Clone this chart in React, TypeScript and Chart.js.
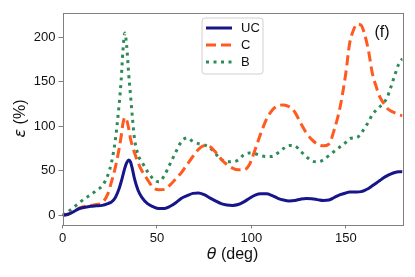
import React, { useEffect, useRef } from "react";
import { Chart, registerables } from "chart.js";

Chart.register(...registerables);

const theta = [0, 3, 6, 9, 12, 15, 18, 21, 24, 26, 28, 30, 31, 32, 33, 34, 35, 36, 37, 38, 40, 42, 45, 48, 51, 54, 57, 60, 63, 66, 69, 72, 75, 78, 81, 84, 87, 90, 93, 96, 99, 102, 105, 108, 111, 114, 117, 120, 123, 126, 129, 132, 135, 138, 141, 144, 147, 150, 152, 154, 156, 158, 160, 162, 164, 166, 168, 170, 172, 174, 176, 178, 180];

const ucValues = [0, 1, 4, 7.5, 9, 10, 10.5, 11, 13, 15, 20, 30, 37, 45, 53, 59, 62, 60, 52, 42, 28, 20, 13, 9.5, 7.5, 7.5, 10, 14, 19, 22, 24.5, 25, 23, 19.5, 16, 13, 11.5, 11, 12, 15, 19, 22.5, 24, 24, 22, 19, 17, 16, 16.5, 18, 18.8, 18.5, 17.5, 16.5, 17, 20, 23, 25, 26, 26, 26, 26.5, 28, 30, 33, 36, 39, 42, 44.5, 46.5, 48, 48.8, 49];

const cValues = [0, 1, 4, 8, 10, 11, 12, 14, 24, 38, 54, 75, 88, 103, 110, 107, 98, 86, 78, 71, 59, 50, 40, 31, 28.5, 29, 34, 41, 48, 57, 66, 74, 78, 77, 71, 63, 57, 53, 51, 51, 57, 74, 92, 108, 118, 123, 124, 122, 116, 104, 93, 85, 80, 78, 80, 97, 122, 160, 193, 208, 215, 214, 203, 185, 160, 145, 133, 126, 120, 117, 115, 113, 112];

const bValues = [0, 4, 9, 14, 19, 23, 28, 33, 45, 60, 85, 125, 150, 185, 205, 190, 160, 135, 110, 88, 68, 60, 49, 41, 37.5, 45, 58, 71, 83, 87, 83, 80.5, 79, 76, 69, 63, 60, 60, 62, 68, 70, 69, 67, 66, 66, 70, 75, 78.5, 78, 72, 66, 61, 60, 62, 67, 72, 77, 82, 86, 87, 87.5, 92, 98, 105, 113, 118, 122, 126, 133, 145, 158, 170, 176];

const seriesLabels = ["UC", "C", "B"];
const xTicks = [0, 50, 100, 150];
const yTicks = [0, 50, 100, 150, 200];
const panelLabel = "(f)";

const toPoints = (vals: number[]) => theta.map((t, i) => ({ x: t, y: vals[i] }));

const overlayPlugin = {
  id: "overlay",
  afterDraw(chart: any) {
    const { ctx, chartArea } = chart;
    const { left, top, right, bottom } = chartArea;
    ctx.save();
    // frame
    ctx.strokeStyle = "#808080";
    ctx.lineWidth = 1;
    ctx.setLineDash([]);
    ctx.strokeRect(Math.round(left) + 0.5, Math.round(top) + 0.5, Math.round(right - left), Math.round(bottom - top));

    // legend box
    const bx = 202, by = 18, bw = 61, bh = 56;
    ctx.fillStyle = "rgba(255,255,255,0.8)";
    ctx.strokeStyle = "#d0d0d0";
    ctx.beginPath();
    const r = 3;
    ctx.moveTo(bx + r, by);
    ctx.lineTo(bx + bw - r, by);
    ctx.quadraticCurveTo(bx + bw, by, bx + bw, by + r);
    ctx.lineTo(bx + bw, by + bh - r);
    ctx.quadraticCurveTo(bx + bw, by + bh, bx + bw - r, by + bh);
    ctx.lineTo(bx + r, by + bh);
    ctx.quadraticCurveTo(bx, by + bh, bx, by + bh - r);
    ctx.lineTo(bx, by + r);
    ctx.quadraticCurveTo(bx, by, bx + r, by);
    ctx.closePath();
    ctx.fill();
    ctx.stroke();

    const rows = [28, 45, 62];
    chart.data.datasets.forEach((ds: any, i: number) => {
      const y = rows[i];
      ctx.strokeStyle = ds.borderColor;
      ctx.lineWidth = ds.borderWidth;
      ctx.setLineDash(ds.borderDash || []);
      ctx.lineCap = "butt";
      ctx.beginPath();
      ctx.moveTo(206, y);
      ctx.lineTo(232, y);
      ctx.stroke();
      ctx.setLineDash([]);
      ctx.fillStyle = "#111";
      ctx.font = "13px 'Liberation Sans', Arial, sans-serif";
      ctx.textAlign = "left";
      ctx.textBaseline = "middle";
      ctx.fillText(ds.label, 241, y + 0.5);
    });

    // panel label
    ctx.fillStyle = "#111";
    ctx.font = "16px 'Liberation Sans', Arial, sans-serif";
    ctx.textAlign = "center";
    ctx.textBaseline = "middle";
    ctx.fillText(panelLabel, 382, 33);

    // x title: θ (deg)
    const xt = 255;
    ctx.textBaseline = "middle";
    ctx.textAlign = "left";
    ctx.font = "italic 16px 'DejaVu Sans', sans-serif";
    const w1 = ctx.measureText("\u03b8").width;
    ctx.font = "16px 'Liberation Sans', Arial, sans-serif";
    const w2 = ctx.measureText(" (deg)").width;
    const cx = (left + right) / 2;
    let sx = cx - (w1 + w2) / 2;
    ctx.font = "italic 16px 'DejaVu Sans', sans-serif";
    ctx.fillText("\u03b8", sx, xt);
    ctx.font = "16px 'Liberation Sans', Arial, sans-serif";
    ctx.fillText(" (deg)", sx + w1, xt);

    // y title: ε (%)
    ctx.save();
    ctx.translate(21, (top + bottom) / 2);
    ctx.rotate(-Math.PI / 2);
    ctx.font = "italic 16px 'DejaVu Sans', sans-serif";
    const e1 = ctx.measureText("\u03b5").width;
    ctx.font = "16px 'Liberation Sans', Arial, sans-serif";
    const e2 = ctx.measureText(" (%)").width;
    const s = -(e1 + e2) / 2;
    ctx.font = "italic 16px 'DejaVu Sans', sans-serif";
    ctx.fillText("\u03b5", s, 0);
    ctx.font = "16px 'Liberation Sans', Arial, sans-serif";
    ctx.fillText(" (%)", s + e1, 0);
    ctx.restore();

    ctx.restore();
  },
};

export default function App() {
  const ref = useRef<HTMLCanvasElement | null>(null);
  useEffect(() => {
    if (!ref.current) return;
    const tickFont = { family: "'Liberation Sans', Arial, sans-serif", size: 13 };
    const chart = new Chart(ref.current, {
      type: "line",
      data: {
        datasets: [
          {
            label: seriesLabels[0],
            data: toPoints(ucValues),
            borderColor: "#16168a",
            borderWidth: 3,
            pointRadius: 0,
            cubicInterpolationMode: "monotone",
            fill: false,
          },
          {
            label: seriesLabels[1],
            data: toPoints(cValues),
            borderColor: "#ff5a1f",
            borderWidth: 3,
            borderDash: [10, 5],
            pointRadius: 0,
            cubicInterpolationMode: "monotone",
            fill: false,
          },
          {
            label: seriesLabels[2],
            data: toPoints(bValues),
            borderColor: "#2e8b57",
            borderWidth: 3,
            borderDash: [3, 4.5],
            pointRadius: 0,
            cubicInterpolationMode: "monotone",
            fill: false,
          },
        ] as any,
      },
      options: {
        animation: false,
        responsive: false,
        maintainAspectRatio: false,
        layout: { padding: { top: 12.5, right: 12.5, left: 0, bottom: 0 } },
        plugins: { legend: { display: false }, tooltip: { enabled: false } },
        scales: {
          x: {
            type: "linear",
            min: 0,
            max: 180,
            afterBuildTicks: (sc: any) => {
              sc.ticks = xTicks.map((v) => ({ value: v }));
            },
            afterFit: (sc: any) => {
              sc.height = 52.5;
            },
            ticks: { font: tickFont, color: "#111", padding: 2, maxRotation: 0 },
            grid: { display: true, drawOnChartArea: false, drawTicks: true, tickLength: 4, color: "#808080" },
            border: { display: false },
          },
          y: {
            type: "linear",
            min: -10.5,
            max: 228,
            afterBuildTicks: (sc: any) => {
              sc.ticks = yTicks.map((v) => ({ value: v }));
            },
            afterFit: (sc: any) => {
              sc.width = 62.5;
            },
            ticks: { font: tickFont, color: "#111", padding: 3 },
            grid: { display: true, drawOnChartArea: false, drawTicks: true, tickLength: 4, color: "#808080" },
            border: { display: false },
          },
        },
      },
      plugins: [overlayPlugin],
    } as any);
    return () => chart.destroy();
  }, []);
  return (
    <div style={{ position: "fixed", left: 0, top: 0, width: 415, height: 277, background: "#fff" }}>
      <canvas ref={ref} width={415} height={277} style={{ width: 415, height: 277 }} />
    </div>
  );
}
